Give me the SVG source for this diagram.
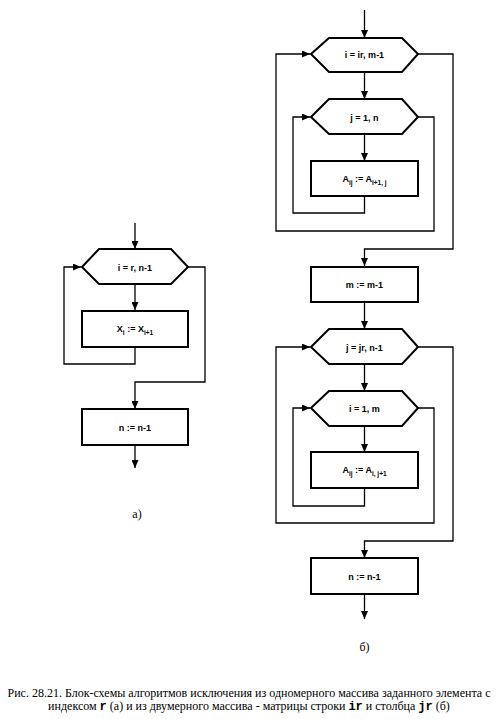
<svg xmlns="http://www.w3.org/2000/svg" width="500" height="719" viewBox="0 0 500 719">
<style>
.box{fill:#fff;stroke:#000;stroke-width:2}
.ln{fill:none;stroke:#000;stroke-width:1.3}
.t{font-family:"Liberation Sans",Arial,sans-serif;font-weight:bold;font-size:9px;text-anchor:middle;fill:#000}
.cap{font-family:"Liberation Serif","Times New Roman",serif;font-size:12px;text-anchor:middle;fill:#000}
.mono{font-family:"Liberation Mono","Courier New",monospace;font-weight:bold}
</style>
<defs>
<marker id="ah" markerUnits="userSpaceOnUse" markerWidth="9" markerHeight="7" refX="8" refY="3.5" orient="auto">
<path d="M0,0 L8,3.5 L0,7 z" fill="#000"/>
</marker>
</defs>
<g id="connectors">
<!-- left diagram -->
<path class="ln" d="M135,223 V249" marker-end="url(#ah)"/>
<path class="ln" d="M135,284 V310" marker-end="url(#ah)"/>
<path class="ln" d="M135,347 V364 H64 V267 H81" marker-end="url(#ah)"/>
<path class="ln" d="M188,267 H205 V382 H135 V409" marker-end="url(#ah)"/>
<path class="ln" d="M135,445 V468" marker-end="url(#ah)"/>
<!-- right diagram -->
<path class="ln" d="M364.5,10 V38" marker-end="url(#ah)"/>
<path class="ln" d="M364.5,72 V99" marker-end="url(#ah)"/>
<path class="ln" d="M364.5,134 V161" marker-end="url(#ah)"/>
<path class="ln" d="M364.5,196 V213 H293 V117 H310" marker-end="url(#ah)"/>
<path class="ln" d="M418,117 H434 V231 H276 V54 H310" marker-end="url(#ah)"/>
<path class="ln" d="M418,54 H453 V249 H364.5 V266" marker-end="url(#ah)"/>
<path class="ln" d="M364.5,302 V329" marker-end="url(#ah)"/>
<path class="ln" d="M364.5,364 V391" marker-end="url(#ah)"/>
<path class="ln" d="M364.5,426 V452" marker-end="url(#ah)"/>
<path class="ln" d="M364.5,488 V506 H293 V408 H310" marker-end="url(#ah)"/>
<path class="ln" d="M418,408 H434 V523 H276 V347 H310" marker-end="url(#ah)"/>
<path class="ln" d="M418,347 H453 V541 H364.5 V558" marker-end="url(#ah)"/>
<path class="ln" d="M364.5,594 V619" marker-end="url(#ah)"/>
</g>
<g id="a-loop">
<polygon class="box" points="82,267 99,249 171,249 188,267 171,284 99,284"/>
<text class="t" x="135" y="270.5">i = r, n-1</text>
</g>
<g id="a-assign">
<rect class="box" x="82" y="311" width="106" height="36"/>
<text class="t" x="135" y="332">X<tspan font-size="6.5" dy="2.5">i</tspan><tspan dy="-2.5"> := X</tspan><tspan font-size="6.5" dy="2.5">i+1</tspan></text>
</g>
<g id="a-dec">
<rect class="box" x="82" y="409" width="106" height="36"/>
<text class="t" x="135" y="430.5">n := n-1</text>
</g>
<text id="label-a" class="cap" x="137" y="518">а)</text>
<g id="b-loop-i">
<polygon class="box" points="311,54 329,38 402,38 418,54 402,72 329,72"/>
<text class="t" x="364.5" y="57.5">i = ir, m-1</text>
</g>
<g id="b-loop-j">
<polygon class="box" points="311,117 329,99 402,99 418,117 402,134 329,134"/>
<text class="t" x="364.5" y="120.5">j = 1, n</text>
</g>
<g id="b-assign1">
<rect class="box" x="311" y="161" width="107" height="35"/>
<text class="t" x="364.5" y="182">A<tspan font-size="6.5" dy="2.5">ij</tspan><tspan dy="-2.5"> := A</tspan><tspan font-size="6.5" dy="2.5">i+1, j</tspan></text>
</g>
<g id="b-dec-m">
<rect class="box" x="311" y="267" width="107" height="35"/>
<text class="t" x="364.5" y="288">m := m-1</text>
</g>
<g id="b-loop-j2">
<polygon class="box" points="311,347 329,329 402,329 418,347 402,364 329,364"/>
<text class="t" x="364.5" y="350.5">j = jr, n-1</text>
</g>
<g id="b-loop-i2">
<polygon class="box" points="311,408 329,391 402,391 418,408 402,426 329,426"/>
<text class="t" x="364.5" y="411.5">i = 1, m</text>
</g>
<g id="b-assign2">
<rect class="box" x="311" y="452" width="107" height="36"/>
<text class="t" x="364.5" y="473">A<tspan font-size="6.5" dy="2.5">ij</tspan><tspan dy="-2.5"> := A</tspan><tspan font-size="6.5" dy="2.5">i, j+1</tspan></text>
</g>
<g id="b-dec-n">
<rect class="box" x="311" y="558" width="107" height="36"/>
<text class="t" x="364.5" y="579.5">n := n-1</text>
</g>
<text id="label-b" class="cap" x="364.5" y="651">б)</text>
<g id="caption">
<text class="cap" x="249" y="697">Рис. 28.21. Блок-схемы алгоритмов исключения из одномерного массива заданного элемента с</text>
<text class="cap" x="249" y="710">индексом <tspan class="mono">r</tspan> (а) и из двумерного массива - матрицы строки <tspan class="mono">ir</tspan> и столбца <tspan class="mono">jr</tspan> (б)</text>
</g>
</svg>
